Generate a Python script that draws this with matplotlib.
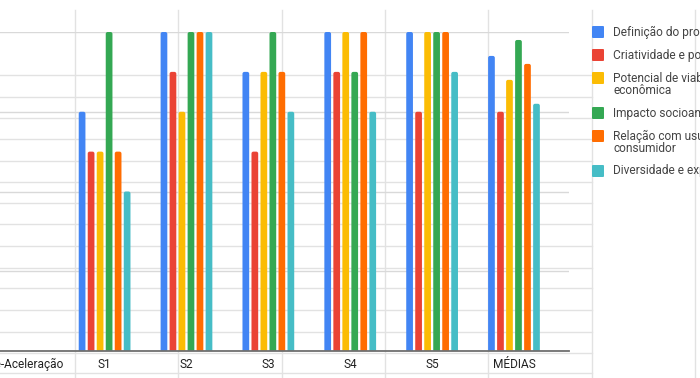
import matplotlib
matplotlib.use("Agg")
from matplotlib import pyplot as plt
from matplotlib.lines import Line2D
from matplotlib.patches import FancyBboxPatch
import numpy as np

categories = ["Pré-Aceleração", "S1", "S2", "S3", "S4", "S5", "MÉDIAS"]

series_names = [
    "Definição do problema",
    "Criatividade e potencial inovador",
    "Potencial de viabilidade\neconômica",
    "Impacto socioambiental",
    "Relação com usuário e\nconsumidor",
    "Diversidade e experiência",
]
definicao = [0, 3.0, 4.0, 3.5, 4.0, 4.0, 3.7]
criatividade = [0, 2.5, 3.5, 2.5, 3.5, 3.0, 3.0]
viabilidade = [0, 2.5, 3.0, 3.5, 4.0, 4.0, 3.4]
impacto = [0, 4.0, 4.0, 4.0, 3.5, 4.0, 3.9]
relacao = [0, 2.5, 4.0, 3.5, 4.0, 4.0, 3.6]
diversidade = [0, 2.0, 4.0, 3.0, 3.0, 3.5, 3.1]

colors = ["#4285F4", "#EA4335", "#FBBC04", "#34A853", "#FF6D01", "#46BDC6"]

W, H = 700, 378
plt.rcParams["font.family"] = ["Roboto", "DejaVu Sans"]

fig = plt.figure(figsize=(W / 100, H / 100), dpi=100)
fig.patch.set_facecolor("white")


def fx(px):
    return px / W


def fy(py):
    return 1 - py / H


# spreadsheet cells behind the chart
cell_color = "#e2e2e2"
for x in [75, 178, 282, 385, 488, 592, 695]:
    fig.add_artist(Line2D([fx(x), fx(x)], [fy(10), fy(H)], color=cell_color, lw=1, zorder=-5))
for y in [75.3, 96.7, 118.3, 139.3, 160.7, 182.3, 203.3, 224.3, 246, 267.7, 288.3, 310, 331.7, 353, 373.3]:
    fig.add_artist(Line2D([0, fx(592)], [fy(y), fy(y)], color=cell_color, lw=1, zorder=-5))

# chart area (left part cropped off)
left, right, top, bottom = -32.3, 569, 32, 351
ax = fig.add_axes([fx(left), fy(bottom), fx(right - left), (bottom - top) / H])
ax.set_facecolor("none")

all_series = [definicao, criatividade, viabilidade, impacto, relacao, diversidade]
x = np.arange(len(categories))
stride = 0.11
bw = 0.082
for i, (vals, c) in enumerate(zip(all_series, colors)):
    off = (i - (len(all_series) - 1) / 2) * stride
    bars = ax.bar(x + off, vals, width=bw, color=c, zorder=3, linewidth=0)
    # redraw each bar with rounded top corners
    for r in bars:
        r.set_visible(False)
        if r.get_height() <= 0:
            continue
        ax.add_patch(FancyBboxPatch((r.get_x(), -0.06), r.get_width(), r.get_height() + 0.06,
                                    boxstyle="round,pad=0,rounding_size=0.024",
                                    facecolor=c, edgecolor="none", zorder=3))

ax.set_xlim(-0.672, len(categories) - 1 + 0.672)
ax.set_ylim(0, 4)
ax.set_yticks([0, 1, 2, 3, 4])
ax.set_yticklabels([])
ax.tick_params(axis="y", length=0)
ax.yaxis.grid(True, color="#d9d9d9", lw=1, zorder=0)
ax.set_axisbelow(True)

ax.set_xticks(x)
ax.set_xticklabels(categories, fontsize=8.6, color="#222222")
ax.tick_params(axis="x", length=0, pad=5)

for s in ["left", "right", "top"]:
    ax.spines[s].set_visible(False)
ax.spines["bottom"].set_color("#6f6f6f")
ax.spines["bottom"].set_linewidth(1.3)
ax.spines["bottom"].set_zorder(4)

# legend (runs off the right edge)
ly = 32
for name, c in zip(series_names, colors):
    sq = FancyBboxPatch((fx(592), fy(ly + 6)), fx(12), 12 / H,
                        boxstyle="round,pad=0,rounding_size=0.002",
                        transform=fig.transFigure, facecolor=c, edgecolor="none")
    fig.add_artist(sq)
    fig.text(fx(613), fy(ly - 6.5), name, fontsize=8.6, color="#444444",
             va="top", ha="left", linespacing=0.95)
    ly += 23 + 12 * name.count("\n")

fig.savefig("out.png", dpi=100)
